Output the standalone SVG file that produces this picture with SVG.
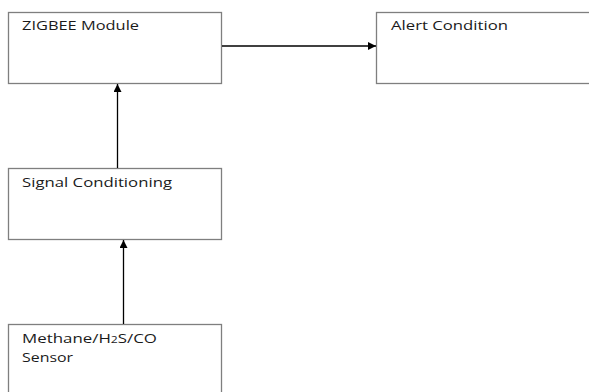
<svg xmlns="http://www.w3.org/2000/svg" width="589" height="392" viewBox="0 0 589 392">
<defs>
<style>
.box{fill:#fff;stroke:#7f7f7f;stroke-width:1.3}
.lbl{font-family:"Open Sans","Liberation Sans",sans-serif;font-size:12.5px;fill:#1a1a1a}
.conn{stroke:#000;stroke-width:1.3;fill:none;marker-end:url(#ah)}
</style>
<marker id="ah" viewBox="0 0 10 10" refX="10" refY="5" markerWidth="8" markerHeight="8" markerUnits="userSpaceOnUse" orient="auto">
<path d="M0,0 L10,5 L0,10 z" fill="#000"/>
</marker>
</defs>
<rect width="589" height="392" fill="#fff"/>
<g id="zigbee"><rect class="box" x="8.5" y="12.5" width="213" height="71"/><text class="lbl" x="22" y="30" textLength="117" lengthAdjust="spacingAndGlyphs">ZIGBEE Module</text></g>
<g id="alert"><rect class="box" x="376.5" y="12.5" width="230" height="71"/><text class="lbl" x="391" y="30" textLength="117" lengthAdjust="spacingAndGlyphs">Alert Condition</text></g>
<g id="signal"><rect class="box" x="8.5" y="168.5" width="213" height="71"/><text class="lbl" x="22" y="187" textLength="150" lengthAdjust="spacingAndGlyphs">Signal Conditioning</text></g>
<g id="sensor"><rect class="box" x="8.5" y="324.5" width="213" height="80"/><text class="lbl" x="22" y="343" textLength="135" lengthAdjust="spacingAndGlyphs">Methane/H<tspan font-size="9">2</tspan>S/CO</text><text class="lbl" x="22" y="362" textLength="51" lengthAdjust="spacingAndGlyphs">Sensor</text></g>
<g id="connectors">
<line class="conn" x1="222" y1="46" x2="376" y2="46"/>
<line class="conn" x1="117.5" y1="168" x2="117.5" y2="84"/>
<line class="conn" x1="123.5" y1="324" x2="123.5" y2="240"/>
</g>
</svg>
